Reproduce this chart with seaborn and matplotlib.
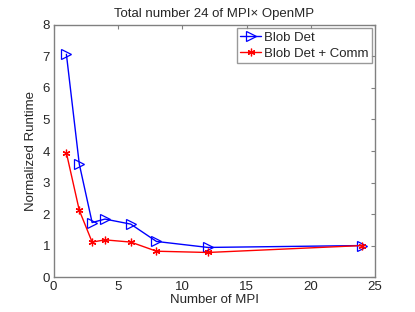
import seaborn as sns
import matplotlib.pyplot as plt
import pandas as pd

# data
mpi = [1, 2, 3, 4, 6, 8, 12, 24]
blob_det = [7.07, 3.59, 1.73, 1.84, 1.68, 1.13, 0.94, 1.0]
blob_det_comm = [3.94, 2.12, 1.11, 1.18, 1.11, 0.82, 0.78, 1.0]
series_names = ["Blob Det", "Blob Det + Comm"]

sns.set_style("white")
plt.rcParams['font.family'] = ['Liberation Sans', 'DejaVu Sans']
plt.rcParams['font.size'] = 9.5

fig = plt.figure(figsize=(4.15, 3.12), dpi=100)
ax = fig.add_axes([0.129, 0.112, 0.775, 0.808])

styles = [("#0000ff", ">", 6.5), ("#ff0000", (6, 2, 0), 5.5)]
for vals, name, (c, m, ms) in zip([blob_det, blob_det_comm], series_names, styles):
    sns.lineplot(x=mpi, y=vals, color=c, marker=m, linewidth=1, markersize=ms,
                 markerfacecolor="none", markeredgecolor=c, markeredgewidth=0.9,
                 label=name, ax=ax)

ax.set_xlim(0, 25)
ax.set_ylim(0, 8)
ax.set_xticks(range(0, 26, 5))
ax.set_yticks(range(0, 9))
ax.tick_params(direction="in", top=True, right=True, length=3, labelsize=9.5,
               color="#808080", pad=2.5)
for s in ax.spines.values():
    s.set_color("#808080")
    s.set_linewidth(1)

ax.set_xlabel("Number of MPI", fontsize=9.5, labelpad=1)
ax.set_ylabel("Normalized Runtime", fontsize=9.5, labelpad=4)
ax.set_title("Total number 24 of MPI\u00d7 OpenMP", fontsize=9.5, pad=6)

leg = ax.legend(loc="upper right", fontsize=9.5, frameon=True, fancybox=False,
                borderaxespad=0.25, handlelength=1.6, handletextpad=0.2,
                borderpad=0.25, labelspacing=0.3)
leg.get_frame().set_edgecolor("#808080")
leg.get_frame().set_linewidth(1)

fig.savefig("out.png", dpi=100)
